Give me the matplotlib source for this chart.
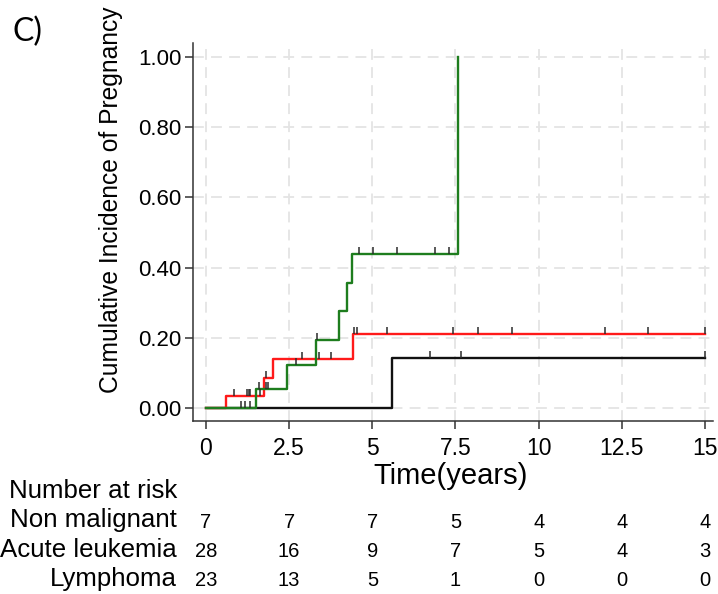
import numpy as np
import matplotlib
matplotlib.use("Agg")
import matplotlib.pyplot as plt

plt.rcParams['font.family'] = ['Liberation Sans', 'DejaVu Sans']

# ---------------- data ----------------
x_ticks = [0, 2.5, 5, 7.5, 10, 12.5, 15]
x_tick_labels = ["0", "2.5", "5", "7.5", "10", "12.5", "15"]
y_ticks = [0, 0.2, 0.4, 0.6, 0.8, 1.0]
y_tick_labels = ["0.00", "0.20", "0.40", "0.60", "0.80", "1.00"]

groups = ["Non malignant", "Acute leukemia", "Lymphoma"]

# step curves (time, cumulative incidence), post-step
nm_times = [0, 5.58, 15.0]
nm_cif = [0, 0.143, 0.143]
al_times = [0, 0.59, 1.74, 2.02, 4.42, 15.0]
al_cif = [0, 0.035, 0.086, 0.140, 0.212, 0.212]
ly_times = [0, 1.50, 2.43, 3.30, 4.00, 4.25, 4.40, 7.58]
ly_cif = [0, 0.053, 0.122, 0.194, 0.276, 0.357, 0.438, 1.0]

# censoring times
nm_cens = [6.73, 7.68, 15.0]
al_cens = [0.84, 1.24, 1.28, 1.33, 1.63, 1.79, 2.89, 3.39, 3.75, 4.45, 4.55,
           5.45, 7.44, 8.17, 9.19, 12.0, 13.29, 15.0]
ly_cens = [1.05, 1.17, 1.32, 1.60, 1.79, 1.87, 2.72, 3.35, 4.61, 5.03, 5.75,
           6.88, 7.31]

# number at risk
risk_nm = [7, 7, 7, 5, 4, 4, 4]
risk_al = [28, 16, 9, 7, 5, 4, 3]
risk_ly = [23, 13, 5, 1, 0, 0, 0]

# ---------------- figure ----------------
W, H = 718, 594
fig = plt.figure(figsize=(W / 100, H / 100), dpi=100)


def fx(px):
    return px / W


def fy(py):
    return 1 - py / H


ax = fig.add_axes([fx(193), fy(421), fx(713) - fx(193), fy(43) - fy(421)])
ax.set_xlim(-0.39, 15.24)
ax.set_ylim(-0.037, 1.04)

ax.set_axisbelow(True)
ax.grid(True, color='#e4e4e4', linewidth=1.3, linestyle=(0, (6, 4)))

spine_col = '#333333'
for s in ['top', 'right']:
    ax.spines[s].set_visible(False)
for s in ['left', 'bottom']:
    ax.spines[s].set_color(spine_col)
    ax.spines[s].set_linewidth(1.1)

ax.set_xticks(x_ticks)
ax.set_xticklabels(x_tick_labels)
ax.set_yticks(y_ticks)
ax.set_yticklabels(y_tick_labels)
ax.tick_params(axis='both', direction='out', length=5.8, width=1.1,
               color=spine_col, labelcolor='black')
ax.tick_params(axis='x', pad=5.5, labelsize=16.5)
ax.tick_params(axis='y', pad=2.5, labelsize=16)

series = [
    (nm_times, nm_cif, nm_cens, '#111111'),
    (al_times, al_cif, al_cens, '#ff1a1a'),
    (ly_times, ly_cif, ly_cens, '#1e7d1e'),
]
tick_h = 7 / 351
for t, c, cens, col in series:
    ax.step(t, c, where='post', color=col, linewidth=1.7, zorder=3)
for t, c, cens, col in series:
    t_arr = np.asarray(t)
    c_arr = np.asarray(c)
    idx = np.searchsorted(t_arr, np.asarray(cens), side='right') - 1
    lev = c_arr[idx]
    ax.vlines(cens, lev, lev + tick_h, colors='#2b2b2b', linewidth=1.1, zorder=4)

# labels
fig.text(fx(118), fy(200), "Cumulative Incidence of Pregnancy", rotation=90,
         rotation_mode='anchor', ha='center', va='baseline', fontsize=17.7)
fig.text(fx(451), fy(484), "Time(years)", ha='center', va='baseline',
         fontsize=21)
fig.text(fx(12), fy(41.5), "C)", ha='left', va='baseline', fontsize=23,
         family=['Lato', 'Liberation Sans', 'DejaVu Sans'])

# risk table
row_base = [498.3, 527.5, 556.7, 585.8]
fig.text(fx(177), fy(row_base[0]), "Number at risk", ha='right',
         va='baseline', fontsize=18.6)
for i, (g, r) in enumerate(zip(groups, [risk_nm, risk_al, risk_ly])):
    yb = row_base[i + 1]
    fig.text(fx(177), fy(yb), g, ha='right', va='baseline', fontsize=18.6)
    for xv, n in zip(x_ticks, r):
        xd = ax.transData.transform((xv, 0))[0]
        xf = fig.transFigure.inverted().transform((xd, 0))[0]
        fig.text(xf, fy(yb), str(n), ha='center', va='baseline', fontsize=14.5)

fig.savefig("out.png", dpi=100)
